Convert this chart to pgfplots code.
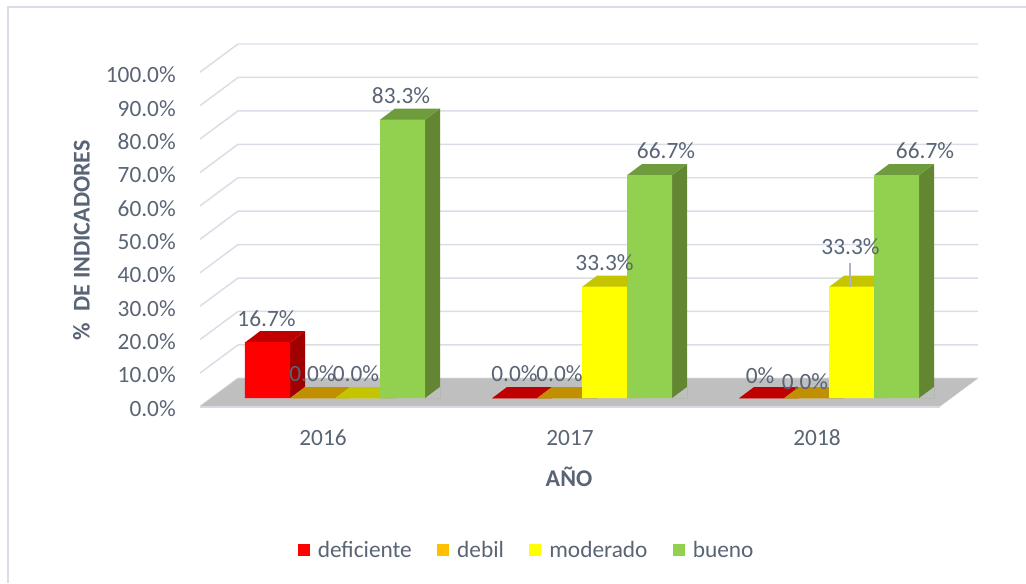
\documentclass[border=0pt]{standalone}
\usepackage{fontspec}
\setmainfont{Carlito}
\usepackage{pgfplots}
\pgfplotsset{compat=1.18}
\usepackage{pgfplotstable}

\definecolor{textc}{RGB}{89,100,117}
\definecolor{gridc}{RGB}{216,221,230}
\definecolor{floorc}{RGB}{191,191,191}
\definecolor{edgec}{RGB}{214,219,227}
\definecolor{leaderc}{RGB}{170,180,196}
\definecolor{redf}{RGB}{255,0,0}
\definecolor{redt}{RGB}{192,0,0}
\definecolor{reds}{RGB}{160,0,0}
\definecolor{oraf}{RGB}{255,192,0}
\definecolor{orat}{RGB}{192,144,0}
\definecolor{oras}{RGB}{165,124,0}
\definecolor{yelf}{RGB}{255,255,0}
\definecolor{yelt}{RGB}{196,196,0}
\definecolor{yels}{RGB}{165,165,0}
\definecolor{grnf}{RGB}{146,208,80}
\definecolor{grnt}{RGB}{110,156,60}
\definecolor{grns}{RGB}{98,134,50}

\newcommand\fnt{\fontsize{17.5}{21}\selectfont}
\newcommand\bfnt{\fontsize{18}{22}\selectfont\bfseries}

\pgfdeclareplotmark{topface}{%
  \pgfpathmoveto{\pgfqpoint{-16.875pt}{-0.2pt}}%
  \pgfpathlineto{\pgfqpoint{16.875pt}{-0.2pt}}%
  \pgfpathlineto{\pgfqpoint{28.125pt}{8.25pt}}%
  \pgfpathlineto{\pgfqpoint{-5.625pt}{8.25pt}}%
  \pgfpathclose\pgfusepathqfill}
\pgfdeclareplotmark{sidetri}{%
  \pgfpathmoveto{\pgfqpoint{16.875pt}{-0.2pt}}%
  \pgfpathlineto{\pgfqpoint{28.125pt}{-0.2pt}}%
  \pgfpathlineto{\pgfqpoint{28.125pt}{8.25pt}}%
  \pgfpathclose\pgfusepathqfill}

\pgfplotsset{sqlegend/.style={legend image code/.code={\fill[##1] (0pt,-4.5pt) rectangle (9pt,4.5pt);}}}

\pgfplotstableread{
x v lab lx ly
0 16.7 16.7 -1 0
1 0 0.0 0 0
2 0 0 -1.5 -2
}\tdef
\pgfplotstableread{
x v lab lx ly
0 0 0.0 0 0
1 0 0.0 0 0
2 0 0.0 -1.5 -8
}\tdeb
\pgfplotstableread{
x v lab lx ly
0 0 0.0 -1.5 0
1 33.3 33.3 0 0
2 33.3 33.3 -1 16
}\tmod
\pgfplotstableread{
x v lab lx ly
0 83.3 83.3 -1.5 0
1 66.7 66.7 16.5 0
2 66.7 66.7 28.5 0
}\tbue

% #1 table, #2 shift, #3 side shift, #4 front, #5 top, #6 side
\newcommand\barseries[6]{%
  \addplot[ybar, bar width=11.25pt, bar shift=#3pt, fill=#6, draw=none, forget plot] table[x=x,y=v]{#1};
  \addplot[only marks, mark=sidetri, color=#6, mark options={xshift=#2pt}, forget plot] table[x=x,y=v]{#1};
  \addplot[only marks, mark=sidetri, color=floorc, mark options={xshift=#2pt}, forget plot] table[x=x,y expr=0]{#1};
  \addplot[only marks, mark=topface, color=#5, mark options={xshift=#2pt}, forget plot] table[x=x,y=v]{#1};
  \addplot[ybar, bar width=33.75pt, bar shift=#2pt, fill=#4, draw=none, sqlegend] table[x=x,y=v]{#1};
}
\newcommand\barlabels[2]{%
  \addplot[ybar, bar width=33.75pt, bar shift=#2pt, draw=none, fill=none, forget plot,
    point meta=explicit symbolic,
    visualization depends on={\thisrow{lx} \as \lx},
    visualization depends on={\thisrow{ly} \as \ly},
    nodes near coords={\pgfplotspointmeta\%},
    nodes near coords style={anchor=center, inner sep=0pt, font=\fnt, text=textc,
      xshift={#2pt+\lx*0.75pt}, yshift={18pt+\ly*0.75pt}}]
    table[x=x,y=v,meta=lab]{#1};
}

\begin{document}
\begin{tikzpicture}
\begin{axis}[
  x=185.25pt, y=2.50725pt,
  xmin=-0.587045, xmax=2.651822, ymin=-3.6, ymax=107.1,
  enlargelimits=false,
  clip marker paths=true,
  axis line style={draw=none},
  tick style={draw=none},
  major tick length=0pt,
  xtick={0,1,2}, xticklabels={2016,2017,2018},
  ytick={-3.08,6.89,16.86,26.83,36.80,46.77,56.74,66.71,76.68,86.65,96.62},
  yticklabels={0.0\%,10.0\%,20.0\%,30.0\%,40.0\%,50.0\%,60.0\%,70.0\%,80.0\%,90.0\%,100.0\%},
  ticklabel style={font=\fnt, text=textc},
  yticklabel style={anchor=east, inner sep=0pt, xshift=-10.5pt},
  xticklabel style={anchor=center, inner sep=0pt, xshift=-9pt, yshift=-21pt},
  xlabel={AÑO},
  ylabel={\%\hspace{0.5em}DE INDICADORES},
  xlabel style={font=\bfnt, text=textc, at={(axis description cs:0.47375,-0.1811)}, anchor=center},
  ylabel style={font=\bfnt, text=textc, at={(axis description cs:-0.1356,0.4581)}, anchor=center},
  legend style={draw=none, fill=none, at={(axis description cs:0.42125,-0.3784)}, anchor=center,
    font=\fnt, text=textc,
    /tikz/every odd column/.append style={column sep=4pt},
    /tikz/every even column/.append style={column sep=17pt}},
  legend columns=4,
]
% grid: left diagonals and back wall
\addplot[gridc, line width=1.1pt, forget plot] coordinates {(-0.5466,-2.54) (-0.3927,5.89) (2.6032,5.89)};
\addplot[gridc, line width=1.1pt, forget plot] coordinates {(-0.5466,7.46) (-0.3927,15.89) (2.6032,15.89)};
\addplot[gridc, line width=1.1pt, forget plot] coordinates {(-0.5466,17.46) (-0.3927,25.89) (2.6032,25.89)};
\addplot[gridc, line width=1.1pt, forget plot] coordinates {(-0.5466,27.46) (-0.3927,35.89) (2.6032,35.89)};
\addplot[gridc, line width=1.1pt, forget plot] coordinates {(-0.5466,37.46) (-0.3927,45.89) (2.6032,45.89)};
\addplot[gridc, line width=1.1pt, forget plot] coordinates {(-0.5466,47.46) (-0.3927,55.89) (2.6032,55.89)};
\addplot[gridc, line width=1.1pt, forget plot] coordinates {(-0.5466,57.46) (-0.3927,65.89) (2.6032,65.89)};
\addplot[gridc, line width=1.1pt, forget plot] coordinates {(-0.5466,67.46) (-0.3927,75.89) (2.6032,75.89)};
\addplot[gridc, line width=1.1pt, forget plot] coordinates {(-0.5466,77.46) (-0.3927,85.89) (2.6032,85.89)};
\addplot[gridc, line width=1.1pt, forget plot] coordinates {(-0.5466,87.46) (-0.3927,95.89) (2.6032,95.89)};
\addplot[gridc, line width=1.1pt, forget plot] coordinates {(-0.5466,97.46) (-0.3927,105.89) (2.6032,105.89)};
% floor
\addplot[fill=floorc, draw=none, forget plot] coordinates {(-0.5466,-2.54) (2.4494,-2.54) (2.6032,5.89) (-0.3927,5.89)} -- cycle;
\addplot[edgec, line width=1.5pt, forget plot] coordinates {(-0.5466,-2.75) (2.4494,-2.75)};
% bars
\barseries{\tdef}{-50.625}{-28.125}{redf}{redt}{reds}
\addlegendentry{deficiente}
\barseries{\tdeb}{-16.875}{5.625}{oraf}{orat}{oras}
\addlegendentry{debil}
\barseries{\tmod}{16.875}{39.375}{yelf}{yelt}{yels}
\addlegendentry{moderado}
\barseries{\tbue}{50.625}{73.125}{grnf}{grnt}{grns}
\addlegendentry{bueno}
% leader line
\addplot[leaderc, line width=1.1pt, forget plot] coordinates {(2.085,33.3) (2.085,40.3)};
% labels
\barlabels{\tdef}{-50.625}
\barlabels{\tdeb}{-16.875}
\barlabels{\tmod}{16.875}
\barlabels{\tbue}{50.625}
\coordinate (BL) at (axis cs:-1.35628,-55.339);
\coordinate (TR) at (axis cs:2.79757,119.055);
\coordinate (FB) at (axis cs:-1.32389,-55.339);
\coordinate (FC) at (axis cs:-1.32389,116.96);
\coordinate (FR) at (axis cs:2.79757,116.96);
\end{axis}
\draw[gridc, line width=1.1pt] (FB) -- (FC) -- (FR);
\pgfresetboundingbox
\path[use as bounding box] (BL) rectangle (TR);
\end{tikzpicture}
\end{document}
